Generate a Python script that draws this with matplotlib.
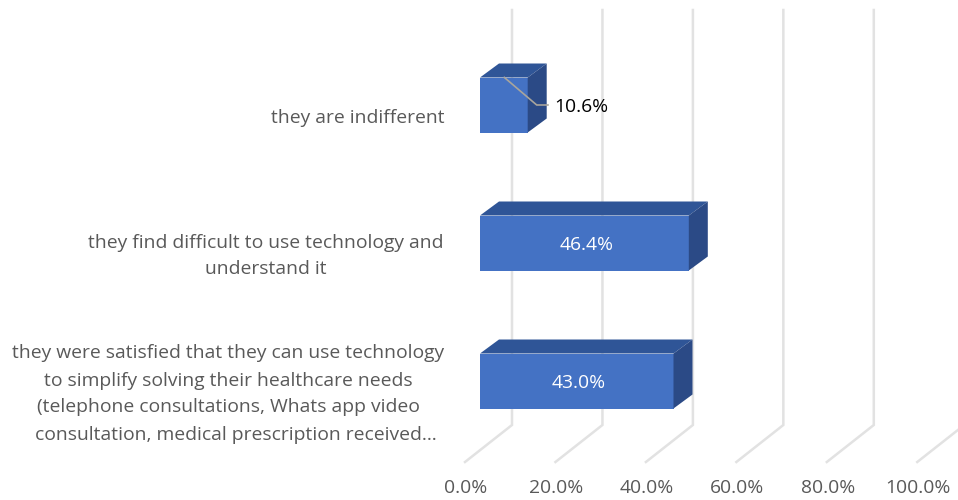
import matplotlib
matplotlib.use('Agg')
import matplotlib.pyplot as plt
from matplotlib.patches import Polygon

# bottom to top, as the chart axis runs
categories = [
    ["they were satisfied that they can use technology", "to simplify solving their healthcare needs",
     "(telephone consultations, Whats app video", "consultation, medical prescription received…"],
    ["they find difficult to use technology and", "understand it"],
    ["they are indifferent"],
]
values = [43.0, 46.4, 10.6]
ticks = [0, 20, 40, 60, 80, 100]
tick_labels = ['0.0%', '20.0%', '40.0%', '60.0%', '80.0%', '100.0%']

plt.rcParams['font.family'] = ['Open Sans', 'DejaVu Sans']

fig = plt.figure(figsize=(9.58, 5.0), dpi=100)
ax = fig.add_axes([0, 0, 1, 1])

# 4.5 px per percent, 138 px per category
ax.set_xlim(-480 / 4.5, 478 / 4.5)
ax.set_ylim(-119 / 138, 381 / 138)
ax.axis('off')

px = 1 / 4.5
py = 1 / 138

grey = '#595959'
fs = 13.9
half = 27.5 * py
bar_dx, bar_dy = 19 * px, 14 * py

# walls and floor
wall_dx, floor_y, back_y, top_y = 32 * px, -81 * py, -44 * py, 371 * py
front_dx = -15 * px
for t, lab in zip(ticks, tick_labels):
    ax.plot([t * 1.005 + wall_dx, t * 1.005 + wall_dx, t * 1.005 + front_dx], [top_y, back_y, floor_y],
            color='#e2e2e2', lw=1.8, zorder=1, solid_joinstyle='miter')
    ax.text(t * 1.005 + front_dx + 0.2, -107 * py, lab, ha='center', va='center', fontsize=fs, color=grey)

# centre of each category text in px, the last line of the long label sits further right
label_centers = [[228, 228, 228, 236], [266, 266], [358]]

# bars: front, top, side
for i, (v, cat) in enumerate(zip(values, categories)):
    ax.add_patch(Polygon([(0, i - half), (v, i - half), (v, i + half), (0, i + half)],
                         fc='#4472c4', ec='none', zorder=3))
    ax.add_patch(Polygon([(0, i + half), (v, i + half), (v + bar_dx, i + half + bar_dy), (bar_dx, i + half + bar_dy)],
                         fc='#2f5597', ec='none', zorder=3))
    ax.add_patch(Polygon([(v, i - half), (v + bar_dx, i - half + bar_dy), (v + bar_dx, i + half + bar_dy), (v, i + half)],
                         fc='#2b4a86', ec='none', zorder=3))
    n = len(cat)
    for k, line in enumerate(cat):
        yy = i - 13 * py + ((n - 1) / 2 - k) * 27 * py
        ax.text((label_centers[i][k] - 480) * px, yy, line, ha='center', va='center', fontsize=fs, color=grey)
    if v > 20:
        ax.text(v / 2 + 0.4, i - 1.5 * py, f'{v:.1f}%', ha='center', va='center', fontsize=fs, color='white', zorder=5)
    else:
        # small bar: leader line out to the label
        ax.plot([v / 2 + 0.1, v + 2, v + 4.5], [i + 0.2, i, i], color='#a9a59c', lw=1.2, zorder=4)
        ax.text(v + 6, i - 2 * py, f'{v:.1f}%', ha='left', va='center', fontsize=fs, color='black', zorder=5)

fig.savefig('out.png', dpi=100)
